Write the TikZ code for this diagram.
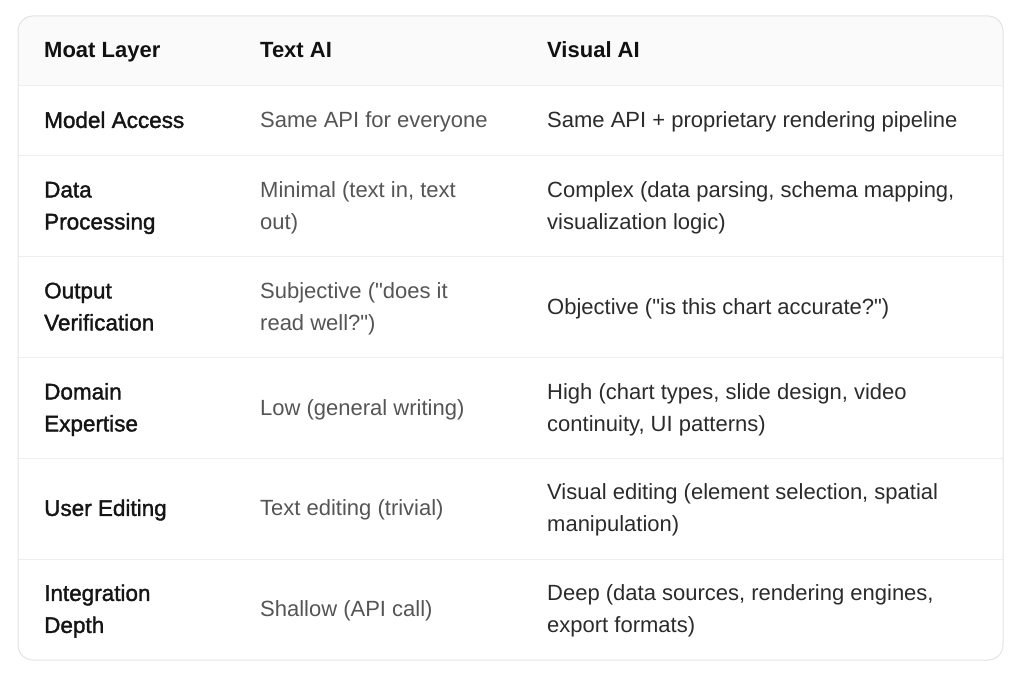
\documentclass[tikz,border=0pt]{standalone}
\usepackage{fontspec}
\setmainfont{Liberation Sans}[Ligatures=TeXOff]
\newfontfamily\medfont{Liberation Sans}[FakeBold=1.6,Ligatures=TeXOff]
\definecolor{hdrfill}{HTML}{FAFAFA}
\definecolor{outerline}{HTML}{E3E3E3}
\definecolor{rowline}{HTML}{EFEFEF}
\definecolor{hdrtext}{HTML}{111111}
\definecolor{keytext}{HTML}{151515}
\definecolor{graytext}{HTML}{555555}
\definecolor{darktext}{HTML}{2B2B2B}
\tikzset{
  cell/.style={anchor=west, inner sep=0pt, align=left, font=\fontsize{22}{32}\selectfont},
  hdrcell/.style={cell, text=hdrtext, font=\fontsize{22}{32}\selectfont\bfseries},
  keycell/.style={cell, text=keytext, font=\fontsize{22.5}{32}\selectfont\medfont},
  textcell/.style={cell, text=graytext},
  viscell/.style={cell, text=darktext},
  rule/.style={draw=rowline, line width=1pt},
}
\begin{document}
\begin{tikzpicture}[x=1pt,y=-1pt]
\useasboundingbox (0,0) rectangle (1029,677);
\begin{scope}
  \clip[rounded corners=15pt] (18,16) rectangle (1003,660);
  \fill[hdrfill] (18,16) rectangle (1003,85.5);
\end{scope}
\foreach \yy in {85.5,155.5,256.5,357.5,458.5,559}{
  \draw[rule] (18,\yy) -- (1003,\yy);
}
\draw[outerline, line width=1pt, rounded corners=15pt] (18,16) rectangle (1003,660);

\def\cA{44}\def\cB{260}\def\cC{547}
% header
\node[hdrcell] (h1) at (\cA,51.5) {\strut Moat Layer};
\node[hdrcell] (h2) at (\cB,51.5) {\strut Text AI};
\node[hdrcell] (h3) at (\cC,51.5) {\strut Visual AI};
% row 1
\node[keycell] (k1) at (\cA,121.5) {\strut Model Access};
\node[textcell] (t1) at (\cB,121.5) {\strut Same API for everyone};
\node[viscell] (v1) at (\cC,121.5) {\strut Same API + proprietary rendering pipeline};
% row 2
\node[keycell] (k2) at (\cA,207) {\strut Data\\\strut Processing};
\node[textcell] (t2) at (\cB,207) {\strut Minimal (text in, text\\\strut out)};
\node[viscell] (v2) at (\cC,207) {\strut Complex (data parsing, schema mapping,\\\strut visualization logic)};
% row 3
\node[keycell] (k3) at (\cA,308) {\strut Output\\\strut Verification};
\node[textcell] (t3) at (\cB,308) {\strut Subjective ("does it\\\strut read well?")};
\node[viscell] (v3) at (\cC,308) {\strut Objective ("is this chart accurate?")};
% row 4
\node[keycell] (k4) at (\cA,409) {\strut Domain\\\strut Expertise};
\node[textcell] (t4) at (\cB,409) {\strut Low (general writing)};
\node[viscell] (v4) at (\cC,409) {\strut High (chart types, slide design, video\\\strut continuity, UI patterns)};
% row 5
\node[keycell] (k5) at (\cA,509.5) {\strut User Editing};
\node[textcell] (t5) at (\cB,509.5) {\strut Text editing (trivial)};
\node[viscell] (v5) at (\cC,509.5) {\strut Visual editing (element selection, spatial\\\strut manipulation)};
% row 6
\node[keycell] (k6) at (\cA,610.5) {\strut Integration\\\strut Depth};
\node[textcell] (t6) at (\cB,610.5) {\strut Shallow (API call)};
\node[viscell] (v6) at (\cC,610.5) {\strut Deep (data sources, rendering engines,\\\strut export formats)};
\end{tikzpicture}
\end{document}
